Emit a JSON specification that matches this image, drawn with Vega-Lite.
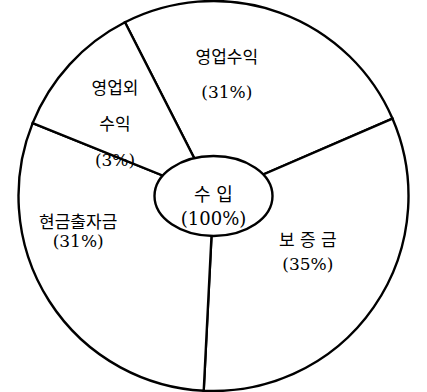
{
  "$schema": "https://vega.github.io/schema/vega-lite/v6.json",
  "width": 427,
  "height": 392,
  "autosize": {"type": "fit", "contains": "padding"},
  "padding": 0,
  "background": "white",
  "config": {"view": {"stroke": null}, "text": {"font": "DejaVu Serif, Noto Sans CJK KR", "fontSize": 17, "color": "black", "align": "center", "baseline": "middle", "lineBreak": "\n"}},
  "data": {
    "values": [
      {"category": "영업수익", "order": 1, "share": 26.0, "label": "영업수익\n(31%)"},
      {"category": "보증금", "order": 2, "share": 32.3, "label": "보  증  금\n(35%)"},
      {"category": "현금출자금", "order": 3, "share": 30.3, "label": "현금출자금\n(31%)"},
      {"category": "영업외수익", "order": 4, "share": 11.4, "label": "영업외\n수익\n(3%)"}
    ]
  },
  "layer": [
    {
      "mark": {"type": "arc", "radius": 195, "fill": "white", "stroke": "black", "strokeWidth": 2.4},
      "encoding": {
        "theta": {"field": "share", "type": "quantitative", "stack": true, "scale": {"range": [-0.4712, 5.8119]}},
        "order": {"field": "order", "type": "quantitative"}
      }
    },
    {
      "mark": {
        "type": "text",
        "radius": {"expr": "datum.category === '영업수익' ? 122 : datum.category === '영업외수익' ? 120 : datum.category === '현금출자금' ? 125 : 110"},
        "dx": {"expr": "datum.category === '영업수익' ? -28 : datum.category === '영업외수익' ? -10 : datum.category === '현금출자금' ? -30 : 4"},
        "dy": {"expr": "datum.category === '영업수익' ? -23 : datum.category === '영업외수익' ? -26 : datum.category === '현금출자금' ? -40 : -18"},
        "lineHeight": {"expr": "datum.category === '영업수익' ? 35 : datum.category === '영업외수익' ? 36 : datum.category === '현금출자금' ? 19 : 24"}
      },
      "encoding": {
        "theta": {"field": "share", "type": "quantitative", "stack": true},
        "order": {"field": "order", "type": "quantitative"},
        "text": {"field": "label", "type": "nominal"}
      }
    },
    {
      "data": {"values": [{"label": "수    입\n(100%)"}]},
      "layer": [
        {
          "mark": {"type": "point", "shape": "M-1,0A1,0.678,0,1,1,1,0A1,0.678,0,1,1,-1,0Z", "size": 13924, "filled": true, "fill": "white", "stroke": "black", "strokeWidth": 2.4, "opacity": 1},
          "encoding": {}
        },
        {
          "mark": {"type": "text", "fontSize": 18, "lineHeight": 24},
          "encoding": {"text": {"field": "label", "type": "nominal"}}
        }
      ]
    }
  ]
}
